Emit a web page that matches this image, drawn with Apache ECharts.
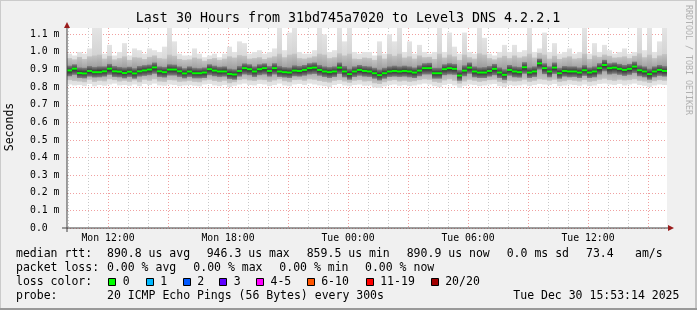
<!DOCTYPE html>
<html><head><meta charset="utf-8">
<script src="https://cdn.jsdelivr.net/npm/echarts@6/dist/echarts.min.js"></script>
<style>html,body{margin:0;padding:0;background:#f0f0f0}#c{width:697px;height:310px}</style>
</head><body><div id="c"></div>
<script>
// time in minutes since Mon 00:00; one value every 15 minutes
const startMin = 597;
const stepMin = 15;
const endMin = 2397;
// values in microseconds
const median = [
895,905,880,878,892,885,885,890,905,890,888,880,888,878,890,895,900,912,890,885,900,900,890,878,
889,879,879,883,902,894,889,889,875,872,892,908,902,889,902,908,892,908,889,885,883,894,892,898,
908,911,898,889,885,889,911,889,874,889,898,892,889,879,868,879,889,892,889,892,889,883,894,908,
908,879,879,902,908,904,866,894,911,889,883,883,892,904,883,870,898,889,885,913,883,889,935,908,
889,911,879,892,889,889,883,896,883,889,908,926,908,911,904,898,904,917,896,889,874,889,898,892];
const maxV = [
990,980,1000,990,1020,1140,1140,990,1040,980,1000,1050,980,1020,1010,990,1020,1010,1000,1030,1140,1060,990,980,
980,1020,990,970,980,990,970,990,1030,1000,1060,1050,990,1000,1010,990,1000,1020,1140,1010,1110,1140,1000,990,
990,1010,1140,1100,1000,1010,1140,1060,1140,1000,990,1000,1000,980,1060,990,1100,1060,1140,1000,1060,990,1040,1000,
990,1000,1140,1000,1110,1030,990,1110,1000,990,1140,1080,990,980,1000,1040,1000,1040,1000,1010,1140,1000,1020,1110,
1000,1050,990,1000,1020,990,1000,1140,990,1050,1000,1040,1010,990,1000,1020,990,1000,1140,1010,1140,1000,1060,1140];
const minV = [
815,810,812,806,818,805,812,808,815,820,810,812,808,815,806,818,812,820,810,808,815,812,806,810,
812,808,805,815,818,810,806,812,800,808,815,820,812,810,818,815,806,812,820,810,805,815,818,812,
820,815,810,806,800,812,818,810,805,812,815,808,810,798,795,805,812,815,808,812,806,810,815,820,
815,806,800,812,818,810,795,808,815,812,806,810,815,818,806,800,812,808,810,815,806,812,818,815,
812,818,806,810,815,812,808,815,806,810,818,820,815,812,818,810,815,820,812,808,800,810,815,812];
const hi2 = [
965,958,972,960,975,980,985,962,978,958,965,975,955,970,968,960,972,980,965,962,985,978,960,955,
958,968,962,950,960,965,955,962,975,968,982,978,962,965,970,960,968,975,990,970,985,990,965,962,
968,975,990,985,965,970,992,980,990,962,960,968,965,955,980,962,988,978,990,968,975,962,980,970,
972,960,990,968,985,975,955,985,970,962,992,985,965,958,968,978,965,980,968,975,990,968,995,985,
962,978,960,968,975,962,965,990,960,980,972,985,978,968,970,975,965,978,992,970,985,965,980,988];
const lo2 = [
840,835,832,828,842,830,836,833,845,840,832,836,830,838,828,842,836,845,832,830,840,838,830,832,
836,830,828,838,842,835,830,836,822,828,840,845,838,835,842,840,830,838,845,834,828,840,842,836,
845,842,835,830,826,836,840,832,825,836,840,832,834,822,818,828,836,840,832,836,830,834,840,845,
842,830,825,838,845,836,820,832,842,836,830,834,840,842,830,822,836,832,834,842,830,836,845,842,
836,842,830,834,840,836,832,840,830,834,842,848,840,836,842,838,840,845,836,832,824,834,840,836];
const hi3 = [
922,930,912,910,920,915,918,918,932,920,915,912,916,908,920,925,928,940,918,915,930,928,918,908,
918,910,908,912,930,922,916,918,905,902,920,935,930,918,930,935,920,936,920,914,912,924,920,926,
936,940,926,918,914,918,940,920,905,918,926,920,918,910,900,910,918,922,918,922,918,912,924,936,
938,910,910,930,936,932,898,924,940,918,912,914,920,932,912,902,926,918,915,942,912,918,962,936,
918,940,910,920,918,918,912,925,912,918,936,955,936,940,932,926,932,945,924,918,905,918,926,920];
const lo3 = [
862,870,852,850,860,855,856,860,870,858,856,850,858,848,860,864,868,876,858,855,866,866,858,850,
858,850,850,852,868,862,858,860,846,842,860,872,868,858,868,872,860,872,858,855,852,862,860,865,
872,875,865,858,852,858,875,856,842,858,865,860,858,848,838,848,858,860,858,860,856,852,862,872,
872,848,848,868,872,870,836,862,876,856,852,852,860,868,852,840,865,856,854,876,852,858,900,874,
856,875,848,860,856,858,852,864,852,856,872,890,872,876,870,864,870,880,862,856,842,856,864,860];

const yMax = 1136;
const yTickStep = 100;
const xLabels = ['Mon 12:00','Mon 18:00','Tue 00:00','Tue 06:00','Tue 12:00'];
const xLabelStart = 720, xLabelStep = 360;

const title = 'Last 30 Hours from 31bd745a7020 to Level3 DNS 4.2.2.1';
const rttStats = ['890.8 us avg','946.3 us max','859.5 us min','890.9 us now','0.0 ms sd','73.4','am/s'];
const lossStats = ['0.00 % avg','0.00 % max','0.00 % min','0.00 % now'];
const lossLabels = ['0','1','2','3','4-5','6-10','11-19','20/20'];
const lossColors = ['#00ff00','#00b8ff','#0059ff','#5e00ff','#ff00ff','#ff5500','#ff0000','#a10000'];
const probeText = '20 ICMP Echo Pings (56 Bytes) every 300s';
const dateText = 'Tue Dec 30 15:53:14 2025';

const mono = '"DejaVu Sans Mono", monospace';
const items = median.map((m, i) => [startMin + stepMin * i, minV[i], lo2[i], lo3[i], m, hi3[i], hi2[i], maxV[i]]);

const grad = (edge, mid) => ({type: 'linear', x: 0, y: 0, x2: 0, y2: 1,
  colorStops: [{offset: 0, color: edge}, {offset: 0.5, color: mid}, {offset: 1, color: edge}]});
const outerFill = grad('#e4e4e4', '#d2d2d2');
const midFill = grad('#c4c4c4', '#9a9a9a');
const innerFill = grad('#808080', '#2e2e2e');

function renderItem(params, api) {
  const cs = params.coordSys;
  const x0 = api.value(0);
  const xa = api.coord([x0, 0])[0];
  const xb = api.coord([x0 + stepMin, 0])[0];
  const top = cs.y, bot = cs.y + cs.height;
  const yp = v => Math.max(top, Math.min(bot, api.coord([x0, v])[1]));
  const rect = (lo, hi, fill) => {
    const y1 = yp(hi), y2 = yp(lo);
    return {type: 'rect', shape: {x: xa, y: y1, width: xb - xa + 0.02, height: y2 - y1}, style: {fill: fill}};
  };
  const my = yp(api.value(4));
  return {type: 'group', children: [
    rect(api.value(1), api.value(7), outerFill),
    rect(api.value(2), api.value(6), midFill),
    rect(api.value(3), api.value(5), innerFill),
    {type: 'rect', shape: {x: xa, y: my - 1, width: xb - xa + 0.02, height: 2}, style: {fill: '#00ff00'}}
  ]};
}

const gridTop = 28, gridH = 200;
const hidden = {axisLine: {show: false}, axisTick: {show: false}, axisLabel: {show: false}};

const graphics = [];
const txt = (text, x, y, size, extra) => graphics.push(Object.assign({
  type: 'text', x: x, y: y,
  style: Object.assign({text: text, font: size + 'px ' + mono, fill: '#000', align: 'left', verticalAlign: 'middle',
    textAlign: 'left', textVerticalAlign: 'middle'}, (extra && extra.style) || {})
}, extra && extra.rotation !== undefined ? {rotation: extra.rotation} : {}));

// frame shading
graphics.push({type: 'rect', shape: {x: 0, y: 0, width: 697, height: 1}, style: {fill: '#cbcbcb'}});
graphics.push({type: 'rect', shape: {x: 0, y: 0, width: 1, height: 310}, style: {fill: '#cbcbcb'}});
graphics.push({type: 'rect', shape: {x: 695, y: 0, width: 2, height: 310}, style: {fill: '#c4c4c4'}});
graphics.push({type: 'rect', shape: {x: 0, y: 308, width: 697, height: 2}, style: {fill: '#999999'}});

txt(title, 348, 18.5, 13.3, {style: {align: 'center', textAlign: 'center'}});
txt('RRDTOOL / TOBI OETIKER', 688, 5, 8.3, {rotation: -Math.PI / 2, style: {fill: '#b0b0b0'}});
txt('Seconds', 10, 127, 11.5, {rotation: Math.PI / 2, style: {align: 'center', textAlign: 'center'}});

// legend rows
const fs = 11.5;
txt('median rtt:', 16, 254, fs);
[107, 206.7, 306.7, 406.7, 506.7, 586, 635].forEach((x, i) => txt(rttStats[i], x, 254, fs));
txt('packet loss:', 16, 268, fs);
[107, 193.3, 279.3, 365].forEach((x, i) => txt(lossStats[i], x, 268, fs));
txt('loss color:', 16, 282, fs);
const boxX = [108.3, 145.7, 182.7, 219.3, 256, 306.7, 365.7, 430.7];
lossLabels.forEach((l, i) => {
  graphics.push({type: 'rect', shape: {x: Math.round(boxX[i]) + 0.5, y: 278.5, width: 7, height: 7},
    style: {fill: lossColors[i], stroke: '#000', lineWidth: 1}});
  txt(l, boxX[i] + 14.5, 282, fs);
});
txt('probe:', 16, 296, fs);
txt(probeText, 107, 296, fs);
txt(dateText, 513.3, 296, fs);

// axis arrows
graphics.push({type: 'polygon', shape: {points: [[64, 28], [70, 28], [67, 22]]}, style: {fill: '#9a1c1c'}, z: 100});
graphics.push({type: 'polygon', shape: {points: [[668, 225], [668, 231], [674, 228]]}, style: {fill: '#9a1c1c'}, z: 100});
// axis line extensions
graphics.push({type: 'rect', shape: {x: 62, y: 227.5, width: 606, height: 1}, style: {fill: '#404040'}, z: 90});
graphics.push({type: 'rect', shape: {x: 66.5, y: 28, width: 1, height: 204}, style: {fill: '#404040'}, z: 90});

const option = {
  animation: false,
  backgroundColor: '#f0f0f0',
  grid: [
    {left: 67, top: gridTop, width: 600, height: gridH, show: true, backgroundColor: '#ffffff', borderWidth: 0},
    {left: 68, top: gridTop, width: 580, height: gridH},
    {left: 108, top: gridTop, width: 540, height: gridH}
  ],
  xAxis: [
    {gridIndex: 0, type: 'value', min: startMin, max: endMin, splitLine: {show: false}, ...hidden},
    {gridIndex: 1, type: 'value', min: 600, max: 2340, interval: 60, ...hidden,
      splitLine: {show: true, lineStyle: {color: '#c8c8c8', type: [1, 2], width: 1}}},
    {gridIndex: 2, type: 'value', min: 720, max: 2340, interval: 180,
      axisLine: {show: false}, axisTick: {show: false},
      axisLabel: {show: true, margin: 5, color: '#000', fontFamily: mono, fontSize: 9.8,
        formatter: v => ((v - xLabelStart) % xLabelStep === 0) ? xLabels[Math.round((v - xLabelStart) / xLabelStep)] : ''},
      splitLine: {show: true, lineStyle: {color: '#f0a0a0', type: [1, 2], width: 1}}}
  ],
  yAxis: [
    {gridIndex: 0, type: 'value', min: 0, max: yMax, interval: yTickStep,
      axisLine: {show: false}, axisTick: {show: false},
      axisLabel: {show: true, align: 'left', margin: 37, color: '#000', fontFamily: mono, fontSize: 9.8, showMaxLabel: false,
        formatter: v => v === 0 ? '0.0' : (v / 1000).toFixed(1) + ' m'},
      splitLine: {show: true, showMaxLine: false, lineStyle: {color: '#f0a0a0', type: [1, 2], width: 1}}},
    {gridIndex: 1, type: 'value', min: 0, max: yMax, show: false},
    {gridIndex: 2, type: 'value', min: 0, max: yMax, show: false}
  ],
  series: [
    {type: 'custom', xAxisIndex: 0, yAxisIndex: 0, clip: true, silent: true, z: 5,
      renderItem: renderItem, data: items, encode: {x: 0, y: [1, 7]}}
  ],
  graphic: graphics
};
const chart = echarts.init(document.getElementById('c'));
chart.setOption(option);
</script></body></html>
